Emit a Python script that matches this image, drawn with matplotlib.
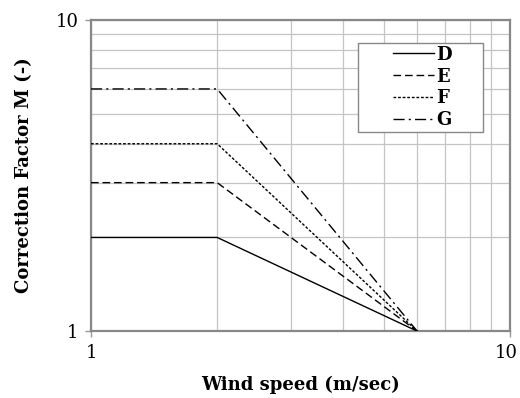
import matplotlib
matplotlib.use("Agg")
import matplotlib.pyplot as plt
import matplotlib.transforms as mtransforms
from matplotlib.patches import Rectangle

# Data
wind_speed = [1, 2, 6]
D = [2, 2, 1]
E = [3, 3, 1]
F = [4, 4, 1]
G = [6, 6, 1]
labels = ["D", "E", "F", "G"]

plt.rcParams['font.family'] = ['DejaVu Serif']

fig = plt.figure(figsize=(5.2, 3.98), dpi=100)
ax = fig.add_axes([0.175, 0.168, 0.806, 0.782])

styles = ['-', (0, (5.5, 2.8)), (0, (2, 1.3)), (0, (8, 3, 1.5, 3))]
lines = []
for ys, lab, ls in zip([D, E, F, G], labels, styles):
    l, = ax.plot(wind_speed, ys, color='black', lw=1.0, linestyle=ls, label=lab, zorder=3)
    lines.append(l)

ax.set_xscale('log')
ax.set_yscale('log')
ax.set_xlim(1, 10)
ax.set_ylim(1, 10)
ax.set_xticks([1, 10])
ax.set_xticklabels(['1', '10'])
ax.set_yticks([1, 10])
ax.set_yticklabels(['1', '10'])
ax.xaxis.set_minor_locator(matplotlib.ticker.LogLocator(base=10, subs=range(2, 10)))
ax.yaxis.set_minor_locator(matplotlib.ticker.LogLocator(base=10, subs=range(2, 10)))
ax.xaxis.set_minor_formatter(matplotlib.ticker.NullFormatter())
ax.yaxis.set_minor_formatter(matplotlib.ticker.NullFormatter())
ax.grid(True, which='both', color='#c4c4c4', lw=0.9)
ax.set_axisbelow(True)
ax.tick_params(which='minor', length=0)
ax.tick_params(which='major', length=4, color='#999999', labelsize=13, width=1, pad=5)
for s in ax.spines.values():
    s.set_color('#888888')
    s.set_linewidth(1.6)

# keep the right-hand "10" inside the canvas
last = ax.get_xticklabels()[-1]
last.set_transform(last.get_transform() +
                   mtransforms.ScaledTranslation(-3 / 72, 0, fig.dpi_scale_trans))

ax.set_xlabel('Wind speed (m/sec)', fontsize=13, fontweight='bold', labelpad=10)
ax.set_ylabel('Correction Factor M (-)', fontsize=13, fontweight='bold', labelpad=16)

# legend frame
frame = Rectangle((0.637, 0.640), 0.298, 0.286, transform=ax.transAxes,
                  facecolor='white', edgecolor='#888888', lw=1.0, zorder=4)
ax.add_patch(frame)
leg = ax.legend(handles=lines, loc='upper left', bbox_to_anchor=(0.708, 0.935),
                frameon=False, handlelength=2.25,
                prop={'weight': 'bold', 'size': 13}, borderpad=0.3,
                labelspacing=0.22, handletextpad=0.15, borderaxespad=0)
leg.set_zorder(5)

fig.savefig('out.png', dpi=100)
